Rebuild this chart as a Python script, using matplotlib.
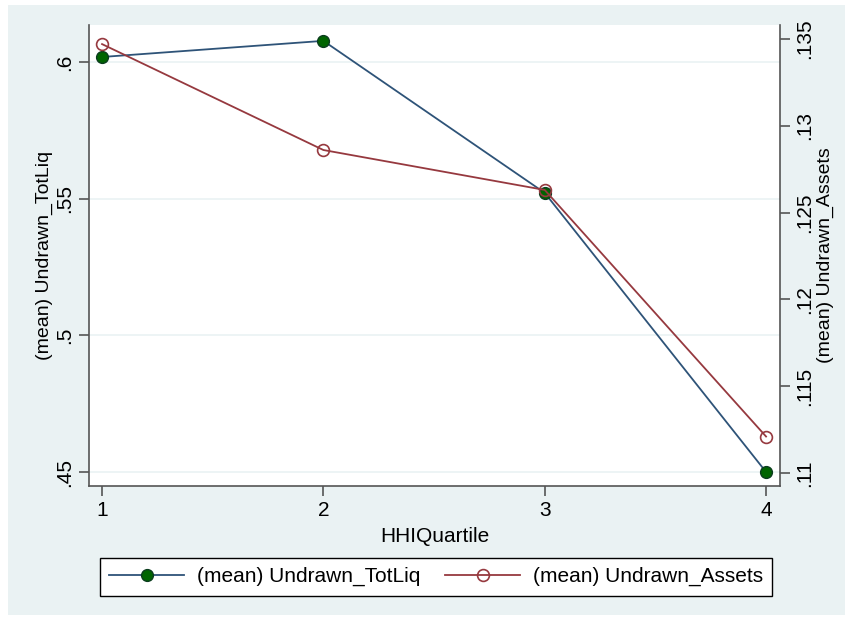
import matplotlib.pyplot as plt
from matplotlib.patches import Rectangle
from matplotlib.ticker import FuncFormatter

quartiles = [1, 2, 3, 4]
undrawn_totliq = [0.6018, 0.6077, 0.5521, 0.4500]
undrawn_assets = [0.1347, 0.1286, 0.1263, 0.1121]

left_ticks = [0.45, 0.50, 0.55, 0.60]
right_ticks = [0.110, 0.115, 0.120, 0.125, 0.130, 0.135]

BG = '#EAF2F3'
NAVY = '#2E5378'
MAROON = '#96393F'
GREEN = '#006400'

plt.rcParams['font.family'] = ['Liberation Sans', 'DejaVu Sans']
plt.rcParams['font.size'] = 15


def stata_fmt(v, pos):
    s = f"{round(v, 4):g}"
    return s[1:] if s.startswith('0') else s


W, H = 849, 621
fig = plt.figure(figsize=(W / 100, H / 100), dpi=100, facecolor='white')
bg = Rectangle((8 / W, 1 - 615 / H), (845 - 8) / W, (615 - 5) / H,
               transform=fig.transFigure, facecolor=BG, edgecolor='none')
bg.set_zorder(-10)
fig.add_artist(bg)

ax = fig.add_axes([89 / W, 1 - 486 / H, (780 - 89) / W, (486 - 25) / H])
ax.set_facecolor('white')
ax.set_xlim(0.941, 4.063)
ax.set_ylim(0.44488, 0.6135)
ax.set_yticks(left_ticks)
ax.set_xticks(quartiles)
ax.yaxis.set_major_formatter(FuncFormatter(stata_fmt))
ax.grid(axis='y', color=BG, linewidth=1.2)
ax.set_axisbelow(True)

ax2 = ax.twinx()
ax2.set_ylim(0.10925, 0.1358)
ax2.set_yticks(right_ticks)
ax2.yaxis.set_major_formatter(FuncFormatter(stata_fmt))

for a in (ax, ax2):
    for side in ('top', 'right', 'left', 'bottom'):
        a.spines[side].set_visible(False)
    a.tick_params(length=7, width=1.2, color='#555555', pad=4)
ax.spines['left'].set_visible(True)
ax.spines['bottom'].set_visible(True)
ax2.spines['right'].set_visible(True)
for sp in (ax.spines['left'], ax.spines['bottom'], ax2.spines['right']):
    sp.set_color('#555555')
    sp.set_linewidth(1.2)

plt.setp(ax.get_yticklabels(), rotation=90, va='center')
plt.setp(ax2.get_yticklabels(), rotation=90, va='center')

l1, = ax.plot(quartiles, undrawn_totliq, color=NAVY, linewidth=1.3,
              marker='o', markersize=8.5, markerfacecolor=GREEN,
              markeredgecolor='#0B3D1E', markeredgewidth=1,
              label='(mean) Undrawn_TotLiq', zorder=3)
l2, = ax2.plot(quartiles, undrawn_assets, color=MAROON, linewidth=1.3,
               marker='o', markersize=8.5, markerfacecolor='none',
               markeredgecolor=MAROON, markeredgewidth=1.2,
               label='(mean) Undrawn_Assets', zorder=3)

ax.set_xlabel('HHIQuartile', labelpad=5)
ax.set_ylabel('(mean) Undrawn_TotLiq', fontsize=14, labelpad=1)
ax2.set_ylabel('(mean) Undrawn_Assets', fontsize=14, labelpad=2)

leg = fig.legend(handles=[l1, l2], loc='center',
                 bbox_to_anchor=((97 + 775) / 2 / W, 1 - 576.5 / H),
                 ncol=2, frameon=True, fancybox=False, numpoints=1,
                 handlelength=3.6, columnspacing=1.2, borderpad=0.45,
                 handletextpad=0.6, framealpha=1)
leg.get_frame().set_edgecolor('black')
leg.get_frame().set_facecolor('white')
leg.get_frame().set_linewidth(1.0)

fig.savefig('out.png', dpi=100, facecolor=fig.get_facecolor())
